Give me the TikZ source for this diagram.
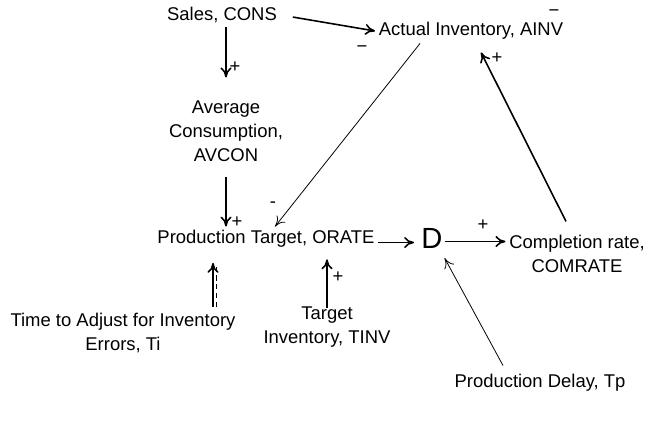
\documentclass[tikz,border=0pt]{standalone}
\usepackage{fontspec}
\setmainfont{Liberation Sans}
\usetikzlibrary{arrows.meta}

\begin{document}
\begin{tikzpicture}[x=0.02cm,y=-0.02cm,font=\fontsize{10.5}{13.6}\selectfont,
  var/.style={inner sep=2pt,align=center},
  link/.style={-{To[length=2mm,width=2.2mm]},line width=0.9pt},
  thinlink/.style={-{To[length=2mm,width=2.2mm]},line width=0.45pt},
  sgn/.style={inner sep=0pt}]
\useasboundingbox (0,0) rectangle (645,422);
% variables
\node[var] (sales) at (222,15) {Sales, CONS};
\node[var] (ainv) at (471,31) {Actual Inventory, AINV};
\node[var] (avcon) at (226,131) {Average\\Consumption,\\AVCON};
\node[var] (orate) at (266,239) {Production Target, ORATE};
\node[inner sep=1pt,font=\fontsize{16.6}{18}\selectfont] (d) at (432,238) {D};
\node[var] (comp) at (577,254) {Completion rate,\\COMRATE};
\node[var] (ti) at (123,333) {Time to Adjust for Inventory\\Errors, Ti};
\node[var] (tinv) at (327,327) {Target\\Inventory, TINV};
\node[var] (tp) at (540,383) {Production Delay, Tp};
\coordinate (tiarrow) at (213,307);
% links
\draw[link,shorten <=7pt] (sales.east) -- (ainv.west);
\draw[link,shorten >=11pt] (sales.south -| avcon.north) -- (avcon.north);
\draw[link,shorten <=7pt] (avcon.south) -- (avcon.south |- orate.north);
\draw[thinlink] ([xshift=-1.02cm]ainv.south) -- ([xshift=0.18cm]orate.north);
\draw[link,shorten >=3pt] ([yshift=-2pt]orate.east) -- ([yshift=-2pt]orate.east -| d.west);
\draw[link] ([yshift=-2pt]d.east) -- ([yshift=-2pt]d.east -| comp.west);
\draw[link] ([xshift=-0.22cm,yshift=0.2cm]comp.north) -- ([xshift=0.2cm,yshift=-0.18cm]ainv.south);
\draw[link,shorten >=6.5pt] (tiarrow) -- (tiarrow |- orate.south);
\draw[line width=0.9pt,dash pattern=on 3pt off 2pt,shorten >=7pt] ([xshift=0.07cm]tiarrow) -- ([xshift=0.07cm]tiarrow |- orate.south);
\draw[link,shorten >=4.5pt] ([yshift=-0.1cm]tinv.north) -- (tinv.north |- orate.south);
\draw[thinlink] ([xshift=-0.74cm,yshift=0.1cm]tp.north) -- ([yshift=-0.16cm]d.south east);
% polarities
\node[sgn] (p1) at (235,67) {+};
\node[sgn] (p2) at (237,222) {+};
\node[sgn] (p3) at (338,277) {+};
\node[sgn] (p4) at (483,225) {+};
\node[sgn] (p5) at (497,58) {+};
\node[sgn] (m1) at (273,205) {-};
\node[sgn] (m2) at (362,49) {−};
\node[sgn] (m3) at (554,13) {−};
\end{tikzpicture}
\end{document}
